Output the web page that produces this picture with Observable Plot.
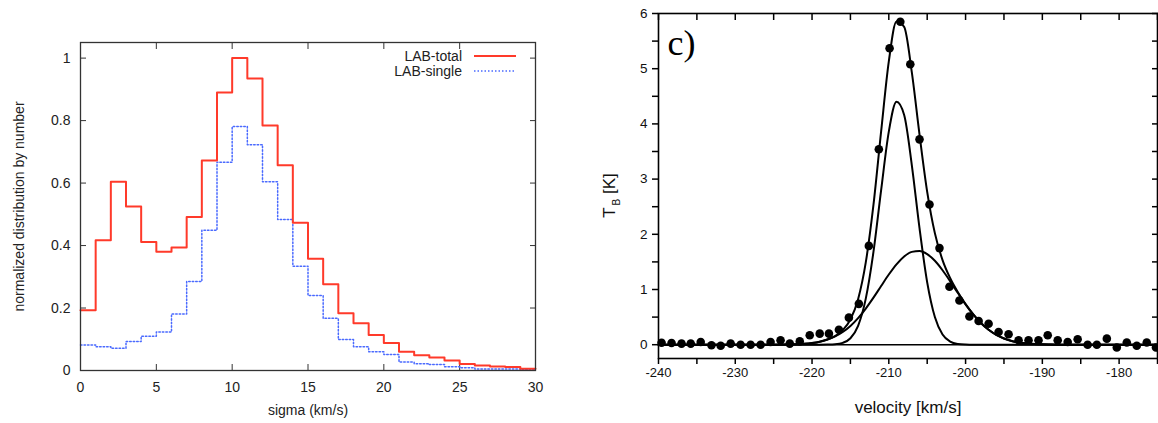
<!DOCTYPE html>
<html><head><meta charset="utf-8">
<script src="https://cdn.jsdelivr.net/npm/d3@7"></script>
<script src="https://cdn.jsdelivr.net/npm/@observablehq/plot@0.6"></script>
<style>
body{margin:0;background:#fff;}
#wrap{position:relative;width:1158px;height:423px;overflow:hidden;background:#fff;}
#left{position:absolute;left:0;top:0;}
#right{position:absolute;left:580px;top:0;}
.legend{position:absolute;left:380px;top:49px;font:14px "Liberation Sans",Arial,sans-serif;color:#222;}
.legend .row{display:flex;align-items:center;height:14.5px;}
.legend .lab{width:82px;text-align:right;margin-right:12px;}
</style></head><body>
<div id="wrap"><div id="left"></div><div id="right"></div><div class="legend" id="legend"></div></div>
<script>
// ---------- Left panel data: velocity-dispersion histogram ----------
const sigmaBins = [0,1,2,3,4,5,6,7,8,9,10,11,12,13,14,15,16,17,18,19,20,21,22,23,24,25,26,27,28,29];
const labTotal  = [0.193,0.417,0.604,0.525,0.411,0.380,0.394,0.491,0.672,0.890,1.000,0.935,0.784,0.657,0.473,
                   0.358,0.276,0.183,0.151,0.114,0.088,0.060,0.049,0.042,0.032,0.021,0.016,0.013,0.011,0.006];
const labSingle = [0.082,0.076,0.071,0.093,0.110,0.123,0.181,0.285,0.449,0.667,0.781,0.723,0.604,0.483,0.334,
                   0.240,0.167,0.099,0.076,0.060,0.051,0.027,0.022,0.019,0.012,0.009,0.005,0.005,0.005,0.003];
const binWidth = 1;
const sigmaTicks = [0,5,10,15,20,25,30];
const distTicks = [0,0.2,0.4,0.6,0.8,1];
const seriesNames = ["LAB-total","LAB-single"];
const seriesColors = ["#ff3a2a","#4a6aff"];
const seriesDash = [null,"1.5,2"];

// ---------- Right panel data: HI spectrum with two-Gaussian fit ----------
const chanVel = [-239.6,-238.3,-237.0,-235.8,-234.5,-233.1,-231.9,-230.6,-229.3,-228.0,-226.7,-225.4,-224.1,-222.9,-221.6,
                 -220.3,-219.0,-217.8,-216.5,-215.2,-213.9,-212.6,-211.3,-209.9,-208.5,-207.2,-206.0,-204.7,-203.4,-202.1,
                 -200.8,-199.5,-198.3,-197.0,-195.7,-194.4,-193.1,-191.8,-190.5,-189.3,-188.0,-186.7,-185.4,-184.1,-182.9,
                 -181.6,-180.3,-179.0,-177.7,-176.4,-175.2];
const chanTb  = [0.036,0.03,0.02,0.02,0.05,-0.01,-0.02,0.02,0.0,0.0,0.0,0.05,0.08,0.02,0.06,
                 0.17,0.20,0.20,0.27,0.49,0.74,1.79,3.54,5.37,5.85,5.08,3.72,2.54,1.75,1.05,
                 0.80,0.51,0.43,0.38,0.23,0.19,0.08,0.08,0.08,0.17,0.08,0.05,0.10,0.0,0.0,
                 0.11,-0.05,0.04,-0.02,0.04,-0.05];
const fitVel = [-240,-230,-225,-222,-221,-220,-219,-218,-217,-216,-215,-214,-213,-212,-211,-210,-209,-208,-207,-206,
                -205,-204,-203,-202,-201,-200,-199,-198,-197,-196,-195,-194,-193,-192,-191,-190,-189,-188,-185,-175];
const fitNarrow = [0,0,0,0,0,0,0,0.002,0.008,0.033,0.117,0.343,0.835,1.68,2.80,3.86,4.40,4.16,3.25,2.11,
                   1.13,0.501,0.184,0.056,0.014,0.003,0,0,0,0,0,0,0,0,0,0,0,0,0,0];
const fitBroad  = [0,0,0.001,0.009,0.017,0.031,0.055,0.093,0.149,0.230,0.340,0.482,0.655,0.852,1.063,1.271,1.456,1.599,1.682,1.697,
                   1.640,1.520,1.349,1.148,0.936,0.731,0.548,0.393,0.270,0.178,0.113,0.068,0.040,0.022,0.012,0.006,0.003,0.001,0,0];
const fitTotal  = [0,0,0.001,0.009,0.017,0.031,0.055,0.095,0.157,0.263,0.457,0.825,1.490,2.532,3.863,5.131,5.856,5.759,4.932,3.807,
                   2.770,2.021,1.533,1.204,0.950,0.734,0.548,0.393,0.270,0.178,0.113,0.068,0.040,0.022,0.012,0.006,0.003,0.001,0,0];
const velTicks = [-240,-230,-220,-210,-200,-190,-180];
const velMinorTicks = [-240,-235,-230,-225,-220,-215,-210,-205,-200,-195,-190,-185,-180,-175];
const tbTicks = [0,1,2,3,4,5,6];
const tbMinorTicks = [0,0.5,1,1.5,2,2.5,3,3.5,4,4.5,5,5.5,6];
const panelTag = "c)";

// ---------- build left ----------
function stepSeries(vals){
  const pts = sigmaBins.map((s,i)=>({s, v: vals[i]}));
  pts.push({s: sigmaBins[sigmaBins.length-1] + binWidth, v: vals[vals.length-1]});
  return pts;
}
const sans = '"Liberation Sans", Arial, Helvetica, sans-serif';
const leftPlot = Plot.plot({
  width: 580, height: 423,
  marginLeft: 80, marginRight: 45, marginTop: 42, marginBottom: 53,
  style: {fontFamily: sans, fontSize: "14px", color: "#222", background: "transparent", overflow: "visible"},
  x: {domain: [0, 30]},
  y: {domain: [0, 1.05]},
  marks: [
    Plot.axisX(sigmaTicks, {anchor: "bottom", tickSize: 0, tickPadding: 12, fontSize: 14,
      label: "sigma (km/s)", labelAnchor: "center", labelArrow: "none", labelOffset: 44}),
    Plot.axisX(sigmaTicks, {anchor: "bottom", tickSize: -6, tickFormat: () => "", label: null, stroke: "#333"}),
    Plot.axisX(sigmaTicks, {anchor: "top", tickSize: -6, tickFormat: () => "", label: null, stroke: "#333"}),
    Plot.axisY(distTicks, {anchor: "left", tickSize: 0, tickPadding: 10, fontSize: 14,
      tickFormat: d => String(+d.toFixed(1)),
      label: "normalized distribution by number", labelAnchor: "center", labelArrow: "none", labelOffset: 66}),
    Plot.axisY(distTicks, {anchor: "left", tickSize: -6, tickFormat: () => "", label: null, stroke: "#333"}),
    Plot.axisY(distTicks, {anchor: "right", tickSize: -6, tickFormat: () => "", label: null, stroke: "#333"}),
    Plot.line(stepSeries(labSingle), {x: "s", y: "v", curve: "step-after", stroke: seriesColors[1], strokeWidth: 1.5, strokeDasharray: seriesDash[1]}),
    Plot.line(stepSeries(labTotal), {x: "s", y: "v", curve: "step-after", stroke: seriesColors[0], strokeWidth: 2}),
    Plot.frame({stroke: "#333", strokeWidth: 1.3})
  ]
});
document.getElementById("left").appendChild(leftPlot);

// legend
const leg = document.getElementById("legend");
seriesNames.forEach((n,i)=>{
  const row = document.createElement("div"); row.className = "row";
  const lab = document.createElement("span"); lab.className = "lab"; lab.textContent = n;
  row.appendChild(lab);
  const sw = d3.create("svg").attr("width", 42).attr("height", 10);
  sw.append("line").attr("x1",0).attr("x2",42).attr("y1",5).attr("y2",5)
    .attr("stroke", seriesColors[i]).attr("stroke-width", i===0?2:1.5)
    .attr("stroke-dasharray", seriesDash[i]);
  row.appendChild(sw.node());
  leg.appendChild(row);
});

// ---------- build right ----------
const chans = chanVel.map((v,i)=>({v, t: chanTb[i]}));
const fits = fitVel.map((v,i)=>({v, n: fitNarrow[i], b: fitBroad[i], t: fitTotal[i]}));
const rightPlot = Plot.plot({
  width: 578, height: 423,
  marginLeft: 78, marginRight: 1, marginTop: 13, marginBottom: 65,
  style: {fontFamily: sans, fontSize: "13px", color: "#111", background: "transparent", overflow: "visible"},
  x: {domain: [-240, -175]},
  y: {domain: [-0.25, 6]},
  marks: [
    Plot.axisX(velTicks, {anchor: "bottom", tickSize: 0, tickPadding: 9, fontSize: 13, label: null, tickFormat: d => String(d)}),
    Plot.axisX([], {anchor: "bottom", tickSize: 0, tickFormat: () => "", fontSize: 17,
      label: "velocity [km/s]", labelAnchor: "center", labelArrow: "none", labelOffset: 54}),
    Plot.axisX(velMinorTicks, {anchor: "bottom", tickSize: 6, tickFormat: () => "", label: null, stroke: "#000", strokeWidth: 1.5}),
    Plot.axisX(velMinorTicks, {anchor: "top", tickSize: -6, tickFormat: () => "", label: null, stroke: "#000", strokeWidth: 1.5}),
    Plot.axisY(tbTicks, {anchor: "left", tickSize: 0, tickPadding: 11, fontSize: 13.5, label: null, tickFormat: d => String(d)}),
    Plot.axisY(tbMinorTicks, {anchor: "left", tickSize: 6, tickFormat: () => "", label: null, stroke: "#000", strokeWidth: 1.5}),
    Plot.axisY(tbMinorTicks, {anchor: "right", tickSize: -6, tickFormat: () => "", label: null, stroke: "#000", strokeWidth: 1.5}),
    Plot.ruleY([0], {stroke: "#000", strokeWidth: 1.6}),
    Plot.line(fits, {x: "v", y: "n", curve: "monotone-x", stroke: "#000", strokeWidth: 2}),
    Plot.line(fits, {x: "v", y: "b", curve: "monotone-x", stroke: "#000", strokeWidth: 2}),
    Plot.line(fits, {x: "v", y: "t", curve: "monotone-x", stroke: "#000", strokeWidth: 2}),
    Plot.dot(chans, {x: "v", y: "t", r: 4.3, fill: "#000", stroke: "none"}),
    Plot.text([panelTag], {frameAnchor: "top-left", dx: 9, dy: 16, fontFamily: '"Liberation Serif", "Times New Roman", serif', fontSize: 36, fill: "#000", textAnchor: "start"}),
    Plot.frame({stroke: "#000", strokeWidth: 1.6})
  ]
});
document.getElementById("right").appendChild(rightPlot);

// Y label with subscript (T_B [K])
{
  const ys = rightPlot.scale("y");
  const yMid = (ys.range[0] + ys.range[1]) / 2 + 10;
  const lab = d3.select(rightPlot).append("text")
    .attr("transform", `translate(${78 - 43},${yMid}) rotate(-90)`)
    .attr("text-anchor", "middle")
    .attr("font-family", sans).attr("font-size", 17).attr("fill", "#111");
  lab.append("tspan").text("T");
  lab.append("tspan").attr("font-size", 10).attr("dy", 5).attr("dx", 2).text("B");
  lab.append("tspan").attr("dy", -5).text(" [K]");
}
</script>
</body></html>
